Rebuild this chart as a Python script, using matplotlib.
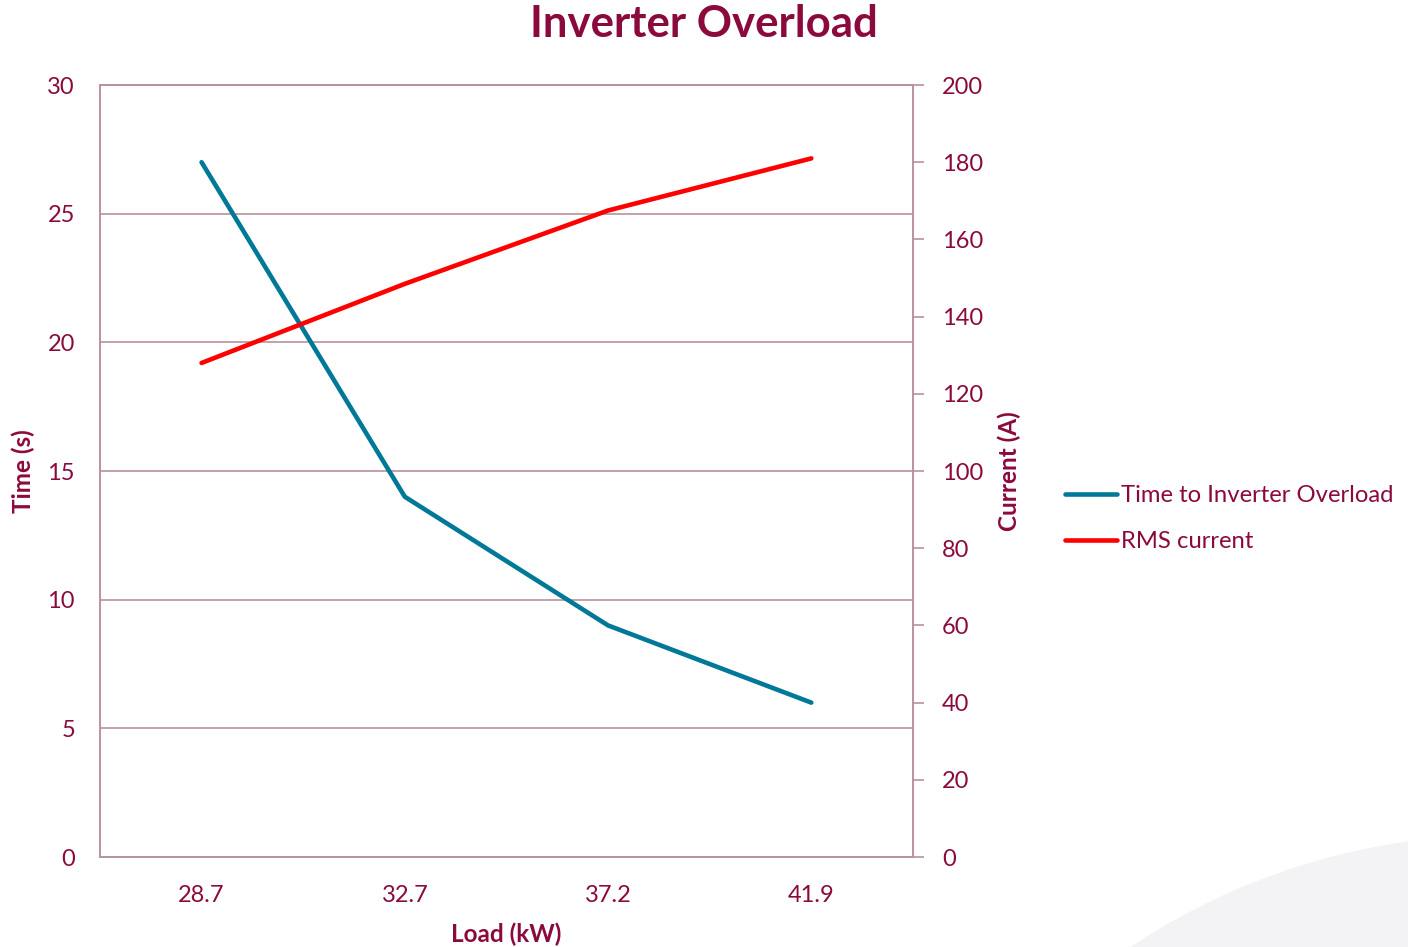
import matplotlib.pyplot as plt
from matplotlib.patches import Circle

load_kw = ["28.7", "32.7", "37.2", "41.9"]
time_s = [27, 14, 9, 6]
rms_current = [128, 148.5, 167.5, 181]

maroon = "#8B0A3E"
edge = "#B8929B"
teal = "#007898"
red = "#FF0000"

plt.rcParams["font.family"] = ["Lato", "DejaVu Sans"]

fig = plt.figure(figsize=(14.08, 9.47), dpi=100)

# faint swoosh in the lower right corner (display coords, origin bottom-left)
swoosh = Circle((1500, -553), 665, transform=None, facecolor="#F3F3F5",
                edgecolor="none", zorder=0)
fig.patches.append(swoosh)

ax = fig.add_axes([0.0710, 0.0950, 0.5774, 0.8152])
ax.set_facecolor("none")
x = range(len(load_kw))

ax.plot(x, time_s, color=teal, linewidth=3.3, solid_capstyle="round",
        label="Time to Inverter Overload", zorder=3)
ax.set_xlim(-0.5, 3.5)
ax.set_ylim(0, 30)
ax.set_yticks(range(0, 31, 5))
ax.set_xticks(list(x))
ax.set_xticklabels(load_kw)
ax.yaxis.grid(True, color=edge, linewidth=1.2)
ax.tick_params(axis="both", length=0, colors=maroon, labelsize=17)
ax.tick_params(axis="y", pad=18)
ax.tick_params(axis="x", pad=20)
for s in ax.spines.values():
    s.set_color(edge)
    s.set_linewidth(1.2)
ax.set_xlabel("Load (kW)", color=maroon, fontsize=17.5, fontweight="bold", labelpad=12)
ax.set_ylabel("Time (s)", color=maroon, fontsize=17.5, fontweight="bold", labelpad=9)

ax2 = ax.twinx()
ax2.plot(x, rms_current, color=red, linewidth=3.3, solid_capstyle="round",
         label="RMS current", zorder=3)
ax2.set_ylim(0, 200)
ax2.set_yticks(range(0, 201, 20))
ax2.tick_params(axis="y", length=8, width=1.2, color=edge, labelcolor=maroon,
                labelsize=17, pad=13)
for s in ax2.spines.values():
    s.set_color(edge)
    s.set_linewidth(1.2)
ax2.set_ylabel("Current (A)", color=maroon, fontsize=17.5, fontweight="bold", labelpad=10)

fig.suptitle("Inverter Overload", color=maroon, fontsize=31.5, fontweight="bold",
             x=0.5, y=0.975, va="center")

h1, l1 = ax.get_legend_handles_labels()
h2, l2 = ax2.get_legend_handles_labels()
fig.legend(h1 + h2, l1 + l2, loc="center left", bbox_to_anchor=(0.741, 0.452),
           frameon=False, fontsize=17.2, labelcolor=maroon, handlelength=2.2,
           handletextpad=0.15, labelspacing=1.05)

fig.savefig("out.png", dpi=100)
